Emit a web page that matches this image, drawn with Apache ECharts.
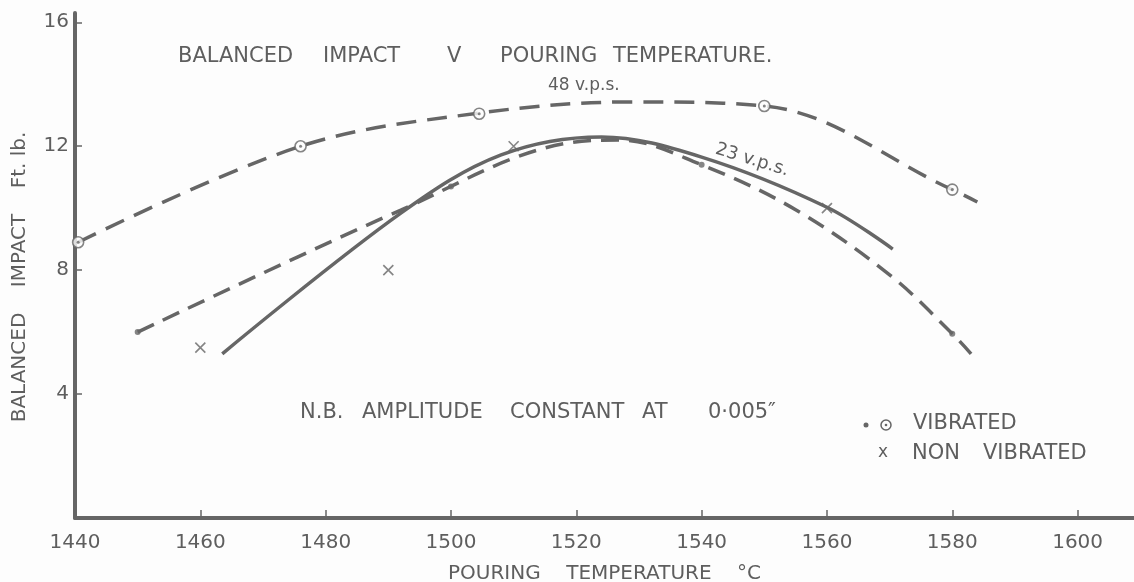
<!DOCTYPE html>
<html>
<head>
<meta charset="utf-8">
<script src="https://cdn.jsdelivr.net/npm/echarts@6/dist/echarts.min.js"></script>
<style>
  html, body { margin: 0; padding: 0; background: #fdfdfd; }
  #impact-chart { width: 1134px; height: 582px; }
</style>
</head>
<body>
<div id="impact-chart"></div>
<script>
// axis ticks
var tempTicks = [1440, 1460, 1480, 1500, 1520, 1540, 1560, 1580, 1600];
var impactTicks = [4, 8, 12, 16];

// 48 v.p.s. vibrated (circled dot)
var vib48Temp = [1440.5, 1476, 1504.5, 1550, 1580];
var vib48Impact = [8.9, 12.0, 13.05, 13.3, 10.6];

// 23 v.p.s. vibrated (dot)
var vib23Temp = [1450, 1500, 1540, 1580];
var vib23Impact = [6.0, 10.7, 11.4, 5.95];

// non vibrated (x)
var nonVibTemp = [1460, 1490, 1510, 1560];
var nonVibImpact = [5.5, 8.0, 12.0, 10.0];

// hand drawn curves
var curve48Temp = [1440.5, 1476, 1504.5, 1529, 1550, 1580, 1584];
var curve48Impact = [8.9, 12.0, 13.07, 13.43, 13.3, 10.6, 10.2];

var curve23Temp = [1450, 1492, 1518.5, 1527, 1540, 1555, 1570, 1580, 1583];
var curve23Impact = [6.0, 9.94, 12.1, 12.2, 11.4, 9.95, 7.85, 5.95, 5.3];

var curveNonTemp = [1463.5, 1492, 1508, 1524, 1540, 1560, 1570.5];
var curveNonImpact = [5.3, 9.84, 11.72, 12.3, 11.65, 10.03, 8.68];

function pairs(xs, ys) {
    var out = [];
    for (var i = 0; i < xs.length; i++) {
        out.push([xs[i], ys[i]]);
    }
    return out;
}

var ink = '#666666';
var textInk = '#5e5e5e';
var font = 'DejaVu Sans';

function word(text, left, top, size) {
    return {
        type: 'text',
        left: left,
        top: top,
        style: { text: text, fill: textInk, font: (size || 21) + 'px "' + font + '"' }
    };
}

document.addEventListener('DOMContentLoaded', function () {

    var myChart = echarts.init(document.getElementById('impact-chart'));
    myChart.setOption({
        animation: false,
        backgroundColor: '#fdfdfd',
        grid: { left: 75, right: 0, top: 13, bottom: 64, containLabel: false, outerBoundsMode: 'none' },
        xAxis: {
            type: 'value',
            min: 1440,
            max: 1609,
            interval: 20,
            name: 'POURING    TEMPERATURE    °C',
            nameLocation: 'middle',
            nameGap: 46,
            nameTextStyle: { color: textInk, fontFamily: font, fontSize: 20 },
            axisLine: { show: true, onZero: false, lineStyle: { color: ink, width: 4 } },
            axisTick: { show: true, inside: true, length: 8, customValues: tempTicks, lineStyle: { color: ink, width: 1.5 } },
            axisLabel: {
                customValues: tempTicks,
                margin: 15,
                color: textInk,
                fontFamily: font,
                fontSize: 20,
                formatter: function (v) { return String(v); }
            },
            splitLine: { show: false }
        },
        yAxis: {
            type: 'value',
            min: 0,
            max: 16.3,
            interval: 4,
            axisLine: { show: true, onZero: false, lineStyle: { color: ink, width: 4 } },
            axisTick: { show: true, inside: true, length: 7, customValues: impactTicks, lineStyle: { color: ink, width: 1.5 } },
            axisLabel: { customValues: impactTicks, margin: 6, color: textInk, fontFamily: font, fontSize: 20 },
            splitLine: { show: false }
        },
        series: [
            {
                name: '48 v.p.s.',
                type: 'line',
                data: pairs(curve48Temp, curve48Impact),
                smooth: 0.35,
                showSymbol: false,
                lineStyle: { color: ink, width: 3.5, type: [20, 11] }
            },
            {
                name: '23 v.p.s.',
                type: 'line',
                data: pairs(curve23Temp, curve23Impact),
                smooth: 0.35,
                showSymbol: false,
                lineStyle: { color: ink, width: 3.5, type: [18, 10] }
            },
            {
                name: 'Non vibrated',
                type: 'line',
                data: pairs(curveNonTemp, curveNonImpact),
                smooth: 0.35,
                showSymbol: false,
                lineStyle: { color: ink, width: 3.5 }
            },
            {
                name: 'Vibrated 48',
                type: 'scatter',
                data: pairs(vib48Temp, vib48Impact),
                symbol: 'circle',
                symbolSize: 11,
                itemStyle: { color: '#fdfdfd', borderColor: ink, borderWidth: 1.6 },
                z: 5
            },
            {
                name: 'Vibrated 48 centre',
                type: 'scatter',
                data: pairs(vib48Temp, vib48Impact),
                symbol: 'circle',
                symbolSize: 3,
                itemStyle: { color: ink },
                z: 6
            },
            {
                name: 'Vibrated 23',
                type: 'scatter',
                data: pairs(vib23Temp, vib23Impact),
                symbol: 'circle',
                symbolSize: 6,
                itemStyle: { color: ink },
                z: 5
            },
            {
                name: 'Non vibrated points',
                type: 'scatter',
                data: pairs(nonVibTemp, nonVibImpact),
                symbol: 'path://M0,0L10,10M10,0L0,10',
                symbolSize: 10,
                itemStyle: { color: 'none', borderColor: ink, borderWidth: 1.6 },
                z: 5
            }
        ],
        graphic: [
            {
                type: 'text',
                x: 20,
                y: 277,
                rotation: Math.PI / 2,
                style: {
                    text: 'BALANCED    IMPACT    Ft. lb.',
                    fill: textInk,
                    font: '20px "' + font + '"',
                    align: 'center',
                    verticalAlign: 'middle'
                }
            },

            word('BALANCED', 178, 46),
            word('IMPACT', 323, 46),
            word('V', 447, 46),
            word('POURING', 500, 46),
            word('TEMPERATURE.', 613, 46),

            word('48 v.p.s.', 548, 77, 17),
            {
                type: 'text',
                x: 752,
                y: 160,
                rotation: -0.3,
                style: { text: '23 v.p.s.', fill: textInk, font: '18px "' + font + '"', align: 'center', verticalAlign: 'middle' }
            },

            word('N.B.', 300, 402),
            word('AMPLITUDE', 362, 402),
            word('CONSTANT', 510, 402),
            word('AT', 642, 402),
            word('0·005″', 708, 402),

            { type: 'circle', shape: { cx: 866, cy: 425, r: 2.5 }, style: { fill: ink } },
            { type: 'circle', shape: { cx: 886, cy: 425, r: 5 }, style: { fill: 'none', stroke: ink, lineWidth: 1.5 } },
            { type: 'circle', shape: { cx: 886, cy: 425, r: 1.3 }, style: { fill: ink } },
            word('VIBRATED', 913, 413),
            word('x', 878, 444, 17),
            word('NON', 912, 443),
            word('VIBRATED', 983, 443)
        ]
    });
});
</script>
</body>
</html>
